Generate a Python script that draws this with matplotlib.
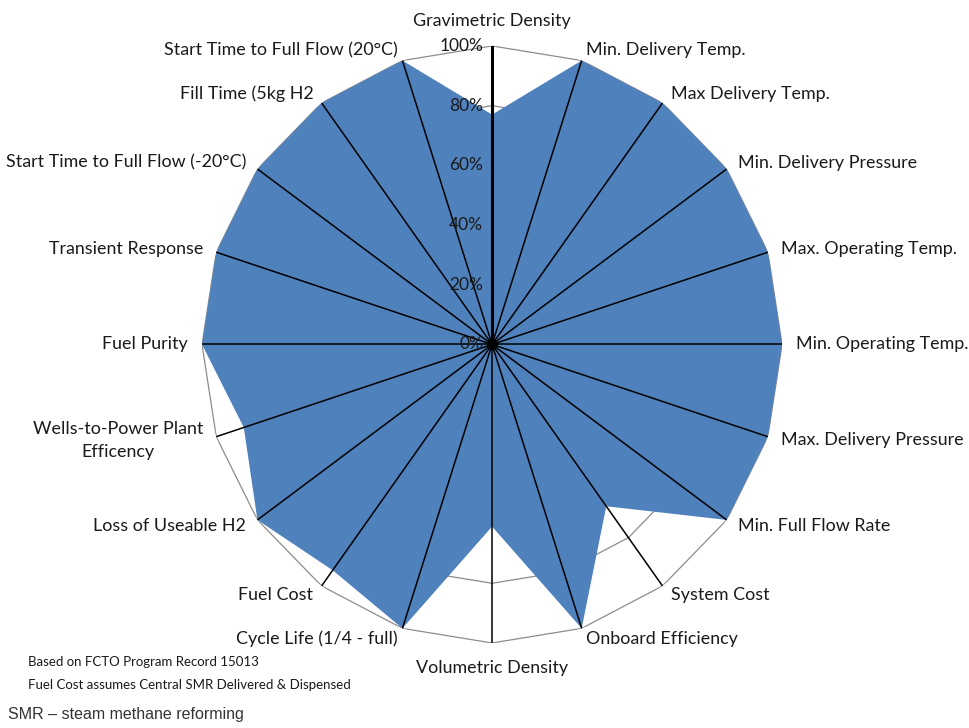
import numpy as np
import matplotlib
matplotlib.use("Agg")
import matplotlib.pyplot as plt

# categories clockwise from the top
categories = [
    "Gravimetric Density",
    "Min. Delivery Temp.",
    "Max Delivery Temp.",
    "Min. Delivery Pressure",
    "Max. Operating Temp.",
    "Min. Operating Temp.",
    "Max. Delivery Pressure",
    "Min. Full Flow Rate",
    "System Cost",
    "Onboard Efficiency",
    "Volumetric Density",
    "Cycle Life (1/4 - full)",
    "Fuel Cost",
    "Loss of Useable H2",
    "Wells-to-Power Plant\nEfficency",
    "Fuel Purity",
    "Transient Response",
    "Start Time to Full Flow (-20°C)",
    "Fill Time (5kg H2",
    "Start Time to Full Flow (20°C)",
]
values = [0.77, 1.0, 1.0, 1.0, 1.0, 1.0, 1.0, 1.0, 0.67, 1.0,
          0.61, 1.0, 0.935, 1.0, 0.90, 1.0, 1.0, 1.0, 1.0, 1.0]
ring_levels = [0.0, 0.2, 0.4, 0.6, 0.8, 1.0]
ring_labels = ["0%", "20%", "40%", "60%", "80%", "100%"]
notes = ["Based on FCTO Program Record 15013",
         "Fuel Cost assumes Central SMR Delivered & Dispensed"]
footer = "SMR \u2013 steam methane reforming"

fill_color = "#4F81BD"
font = ["Lato", "DejaVu Sans"]

n = len(categories)
angles = np.arange(n) * 2 * np.pi / n
closed = np.append(angles, angles[0])

fig = plt.figure(figsize=(9.69, 7.28), dpi=100)
ax = fig.add_axes([0.2085, 0.1168, 0.5986, 0.8201], projection="polar")
ax.set_aspect("auto")
ax.set_theta_zero_location("N")
ax.set_theta_direction(-1)
ax.set_ylim(0, 1)
ax.grid(False)
ax.set_xticks([])
ax.set_yticks([])
ax.spines["polar"].set_visible(False)
ax.patch.set_visible(False)

# polygon gridlines
for r in ring_levels[1:]:
    ax.plot(closed, [r] * (n + 1), color="#8c8c8c", lw=0.9, zorder=1)

# data area
ax.fill(closed, np.append(values, values[0]), color=fill_color, zorder=2, lw=0)

# spokes
for i, a in enumerate(angles):
    ax.plot([a, a], [0, 1], color="black", lw=2.2 if i == 0 else 1.1, zorder=3)
ax.plot([0], [0], marker="o", ms=7, color="black", zorder=4)

# percentage labels on the vertical axis
for r, lab in zip(ring_levels, ring_labels):
    ax.annotate(lab, xy=(0, r), xytext=(-9, 0), textcoords="offset pixels",
                ha="right", va="center", fontsize=12.5, family=font,
                color="#1a1a1a", zorder=5)

# category labels
for a, lab in zip(angles, categories):
    s, c = np.sin(a), np.cos(a)
    if abs(s) < 1e-6:
        ha = "center"
        dx, dy = 0, 25 * c
    else:
        ha = "left" if s > 0 else "right"
        dx, dy = 14 * s, 11 * c
    ax.annotate(lab, xy=(a, 1.0), xytext=(dx, dy), textcoords="offset pixels",
                ha=ha, va="center", multialignment="center",
                fontsize=12.9, family=font, color="#1a1a1a",
                linespacing=1.55, annotation_clip=False)

fig.text(28 / 969, 1 - 662 / 728, notes[0], ha="left", va="center",
         fontsize=9.5, family=font, color="#1a1a1a")
fig.text(28 / 969, 1 - 685 / 728, notes[1], ha="left", va="center",
         fontsize=9.5, family=font, color="#1a1a1a")
fig.text(8 / 969, 1 - 715 / 728, footer, ha="left", va="center",
         fontsize=11.5, family=["Liberation Sans", "DejaVu Sans"], color="#333333")

fig.savefig("out.png", dpi=100)
